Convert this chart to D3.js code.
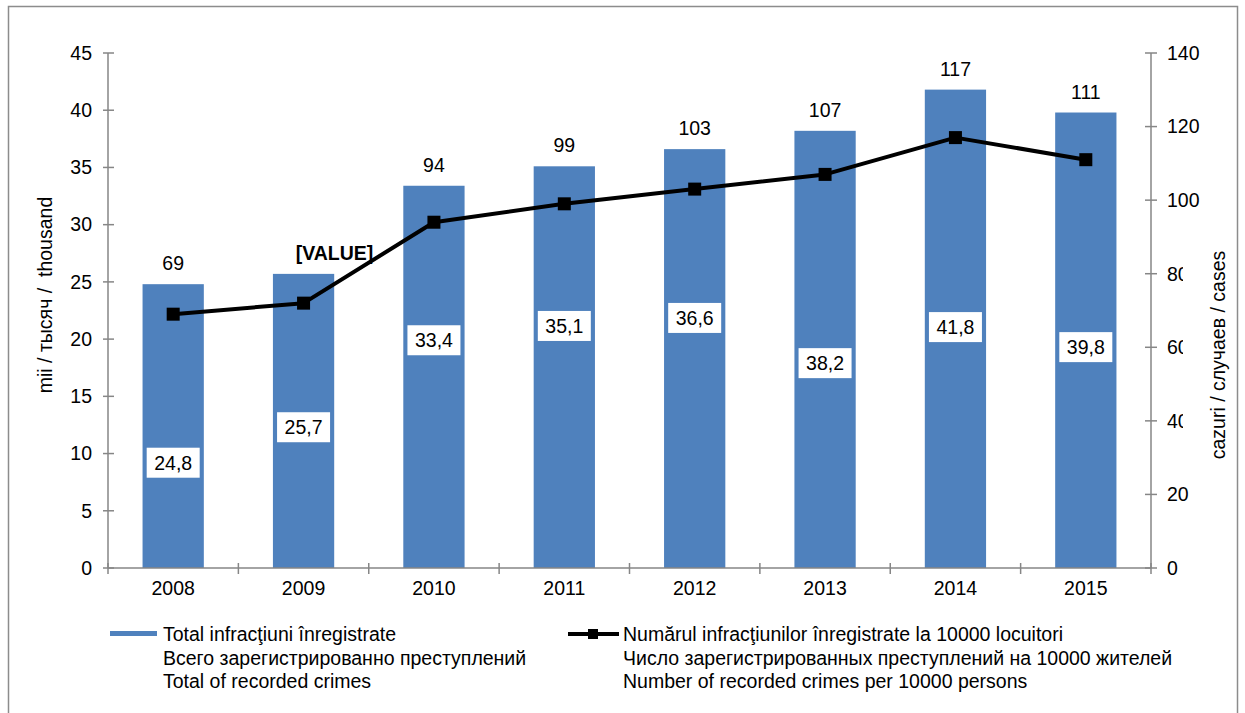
<!DOCTYPE html>
<html>
<head>
<meta charset="utf-8">
<script src="https://cdn.jsdelivr.net/npm/d3@7"></script>
<style>
  body { margin: 0; background: #fff; }
  text { font-family: "Liberation Sans", Arial, sans-serif; fill: #000; font-size: 19.5px; }
</style>
</head>
<body>
<div id="chart"></div>
<script>
// data
const years = ['2008', '2009', '2010', '2011', '2012', '2013', '2014', '2015']
const totalCrimes = [24.8, 25.7, 33.4, 35.1, 36.6, 38.2, 41.8, 39.8]      // mii / thousand
const crimesPer10k = [69, 72, 94, 99, 103, 107, 117, 111]                  // cases
const lineLabels = ['69', '[VALUE]', '94', '99', '103', '107', '117', '111']
// where the boxed bar labels sit (in thousand units, as placed in the original)
const boxLabelAt = [9.2, 12.3, 19.9, 21.15, 21.85, 17.9, 21.05, 19.3]
const leftTicks = [0, 5, 10, 15, 20, 25, 30, 35, 40, 45]
const rightTicks = [0, 20, 40, 60, 80, 100, 120, 140]
const legendBar = ['Total infracţiuni înregistrate', 'Всего зарегистрированно преступлений', 'Total of recorded crimes']
const legendLine = ['Numărul infracţiunilor înregistrate la 10000 locuitori', 'Число зарегистрированных преступлений на 10000 жителей', 'Number of recorded crimes per 10000 persons']

const W = 1245, H = 713
const axisColor = '#868686'
const barColor = '#4F81BD'

const svg = d3.select('#chart').append('svg')
    .attr('width', W)
    .attr('height', H)

// outer frame
svg.append('rect')
    .attr('x', 8.5).attr('y', 6.5)
    .attr('width', 1229).attr('height', 720)
    .attr('fill', 'none')
    .attr('stroke', '#8c8c8c')
    .attr('stroke-width', 1.5)

const x = d3.scaleBand()
    .domain(years)
    .range([108, 1151])
    .paddingInner(0.53)
    .paddingOuter(0.265)

const yL = d3.scaleLinear().domain([0, 45]).range([568, 53])
const yR = d3.scaleLinear().domain([0, 140]).range([568, 53])

// bars
svg.append('g').selectAll('rect')
    .data(totalCrimes)
    .join('rect')
    .attr('x', (d, i) => x(years[i]))
    .attr('y', d => yL(d))
    .attr('width', x.bandwidth())
    .attr('height', d => yL(0) - yL(d))
    .attr('fill', barColor)

// left axis
const gL = svg.append('g').attr('transform', 'translate(108,0)')
gL.append('line')
    .attr('y1', yL(45)).attr('y2', yL(0))
    .attr('stroke', axisColor).attr('stroke-width', 1.5)
gL.selectAll('.tk').data(leftTicks).join('line')
    .attr('x1', -5).attr('x2', 6)
    .attr('y1', d => yL(d)).attr('y2', d => yL(d))
    .attr('stroke', axisColor).attr('stroke-width', 1.5)
gL.selectAll('text').data(leftTicks).join('text')
    .attr('x', -16)
    .attr('y', d => yL(d))
    .attr('dy', '0.35em')
    .attr('text-anchor', 'end')
    .text(d => d)

// right axis
const gR = svg.append('g').attr('transform', 'translate(1151,0)')
gR.append('line')
    .attr('y1', yR(140)).attr('y2', yR(0))
    .attr('stroke', axisColor).attr('stroke-width', 1.5)
gR.selectAll('.tk').data(rightTicks).join('line')
    .attr('x1', -6).attr('x2', 6)
    .attr('y1', d => yR(d)).attr('y2', d => yR(d))
    .attr('stroke', axisColor).attr('stroke-width', 1.5)
gR.selectAll('text').data(rightTicks).join('text')
    .attr('x', 16)
    .attr('y', d => yR(d))
    .attr('dy', '0.35em')
    .text(d => d)

// x axis
const gX = svg.append('g').attr('transform', 'translate(0,' + yL(0) + ')')
gX.append('line')
    .attr('x1', 108).attr('x2', 1151)
    .attr('stroke', axisColor).attr('stroke-width', 1.5)
gX.selectAll('.tk').data(d3.range(years.length + 1)).join('line')
    .attr('x1', i => 108 + i * x.step()).attr('x2', i => 108 + i * x.step())
    .attr('y1', -5).attr('y2', 6)
    .attr('stroke', axisColor).attr('stroke-width', 1.5)
gX.selectAll('text').data(years).join('text')
    .attr('x', d => x(d) + x.bandwidth() / 2)
    .attr('y', 27)
    .attr('text-anchor', 'middle')
    .text(d => d)

// axis titles
svg.append('text')
    .attr('transform', 'translate(52,295) rotate(-90)')
    .attr('text-anchor', 'middle')
    .style('white-space', 'pre')
    .text('mii / тысяч /  thousand')

// the right title's box hides part of the 40/60/80 labels, as in the original
svg.append('rect')
    .attr('x', 1183).attr('y', 250)
    .attr('width', 48).attr('height', 212)
    .attr('fill', '#fff')
svg.append('text')
    .attr('transform', 'translate(1225,355) rotate(-90)')
    .attr('text-anchor', 'middle')
    .text('cazuri / случаев / cases')

// line series
const cx = (i) => x(years[i]) + x.bandwidth() / 2
const line = d3.line()
    .x((d, i) => cx(i))
    .y(d => yR(d))

svg.append('path')
    .datum(crimesPer10k)
    .attr('d', line)
    .attr('fill', 'none')
    .attr('stroke', '#000')
    .attr('stroke-width', 4)
    .attr('stroke-linejoin', 'round')

svg.append('g').selectAll('rect')
    .data(crimesPer10k)
    .join('rect')
    .attr('x', (d, i) => cx(i) - 6.5)
    .attr('y', d => yR(d) - 6.5)
    .attr('width', 13)
    .attr('height', 13)
    .attr('fill', '#000')

// line value labels above bars
svg.append('g').selectAll('text')
    .data(lineLabels)
    .join('text')
    .attr('x', (d, i) => cx(i) + (d === '[VALUE]' ? 31 : 0))
    .attr('y', (d, i) => yL(totalCrimes[i]) - 14)
    .attr('text-anchor', 'middle')
    .style('font-weight', d => d === '[VALUE]' ? 'bold' : 'normal')
    .text(d => d)

// boxed bar labels
const boxes = svg.append('g').selectAll('g')
    .data(totalCrimes)
    .join('g')
    .attr('transform', (d, i) => 'translate(' + cx(i) + ',' + yL(boxLabelAt[i]) + ')')
boxes.append('rect')
    .attr('x', -26.5).attr('y', -15)
    .attr('width', 53).attr('height', 30)
    .attr('fill', '#fff')
boxes.append('text')
    .attr('text-anchor', 'middle')
    .attr('dy', '0.36em')
    .text(d => String(d).replace('.', ','))

// legend
const lg1 = svg.append('g')
lg1.append('rect')
    .attr('x', 110).attr('y', 631)
    .attr('width', 47).attr('height', 5)
    .attr('fill', barColor)
lg1.selectAll('text').data(legendBar).join('text')
    .attr('x', 163)
    .attr('y', (d, i) => 641 + i * 23.5)
    .text(d => d)

const lg2 = svg.append('g')
lg2.append('line')
    .attr('x1', 568).attr('x2', 619)
    .attr('y1', 634).attr('y2', 634)
    .attr('stroke', '#000').attr('stroke-width', 4)
lg2.append('rect')
    .attr('x', 588).attr('y', 629)
    .attr('width', 10).attr('height', 10)
    .attr('fill', '#000')
lg2.selectAll('text').data(legendLine).join('text')
    .attr('x', 623)
    .attr('y', (d, i) => 641 + i * 23.5)
    .text(d => d)
</script>
</body>
</html>
